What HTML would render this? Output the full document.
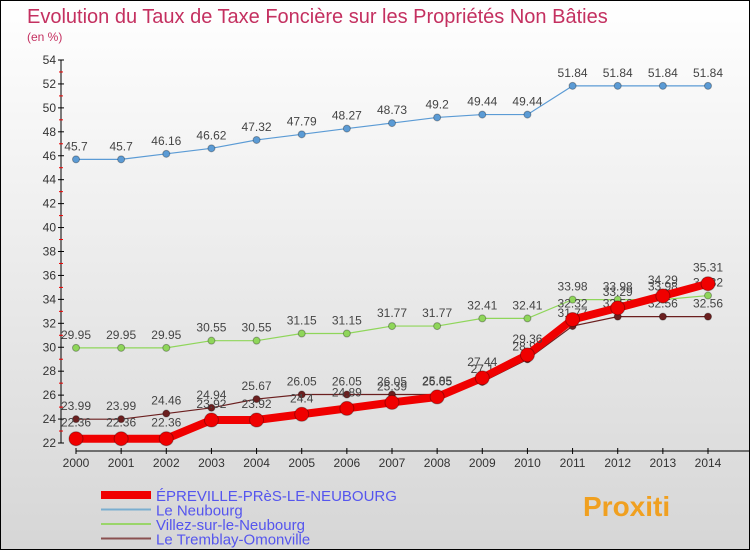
<!DOCTYPE html>
<html><head><meta charset="utf-8"><style>
body{margin:0}
#c{width:748px;height:548px;border:1px solid #000;background:linear-gradient(#fff,#d6d6d6);position:relative;overflow:hidden;font-family:"Liberation Sans",sans-serif}
</style></head><body>
<div id="c">
<svg id="s" width="748" height="548">
<text x="26" y="22" font-size="20" fill="#c43060">Evolution du Taux de Taxe Foncière sur les Propriétés Non Bâties</text>
<text x="26" y="40" font-size="12" fill="#c43060">(en %)</text>
</svg>
</div>
<script>
const years=[2000,2001,2002,2003,2004,2005,2006,2007,2008,2009,2010,2011,2012,2013,2014];
const yTicks=[22,24,26,28,30,32,34,36,38,40,42,44,46,48,50,52,54];
const epreville=[22.36,22.36,22.36,23.92,23.92,24.4,24.89,25.39,25.85,27.44,29.36,32.32,33.29,34.29,35.31];
const neubourg=[45.7,45.7,46.16,46.62,47.32,47.79,48.27,48.73,49.2,49.44,49.44,51.84,51.84,51.84,51.84];
const villez=[29.95,29.95,29.95,30.55,30.55,31.15,31.15,31.77,31.77,32.41,32.41,33.98,33.98,33.98,34.32];
const tremblay=[23.99,23.99,24.46,24.94,25.67,26.05,26.05,26.05,26.05,27.1,28.99,31.77,32.56,32.56,32.56];
const NS="http://www.w3.org/2000/svg",s=document.getElementById('s');
const X=i=>75+i*(632/14), Y=v=>442-(v-22)*(383/32);
function mk(t,a,p){const e=document.createElementNS(NS,t);for(const k in a)e.setAttribute(k,a[k]);(p||s).appendChild(e);return e;}
const ax=mk('line',{x1:60,y1:59,x2:60,y2:442,stroke:'#000'});


const xa=mk('line',{x1:75,y1:450,x2:748,y2:450,stroke:'#000'});


yTicks.forEach(v=>{mk('line',{x1:57,x2:63,y1:Y(v),y2:Y(v),stroke:'#000'});
if(v<54)mk('line',{x1:58,x2:62,y1:Y(v+1),y2:Y(v+1),stroke:'#e00'});
const t=mk('text',{x:55,y:Y(v)+4,'font-size':12,'text-anchor':'end',fill:'#333'});t.textContent=v;

});
years.forEach((y,i)=>{mk('line',{x1:X(i),x2:X(i),y1:447,y2:453,stroke:'#000'});
const t=mk('text',{x:X(i),y:466,'font-size':12,'text-anchor':'middle',fill:'#333'});t.textContent=y;

});
function series(d,col,w,r,name,off){const g=mk('g',{});


mk('polyline',{points:d.map((v,i)=>X(i)+','+Y(v)).join(' '),fill:'none',stroke:col,'stroke-width':w},g);
d.forEach((v,i)=>{const c=mk('circle',{cx:X(i),cy:Y(v),r:r,fill:col,stroke:'rgba(0,0,0,0.3)'},g);


const t=mk('text',{x:X(i),y:Y(v)+off,'font-size':12,'text-anchor':'middle',fill:'#444'},g);t.textContent=v;

});}
series(neubourg,'#5b9bd5',1.2,3.5,'neubourg-series',-9);
series(villez,'#8fd65a',1.2,3.5,'villez-series',-9);
series(tremblay,'#6b1f1f',1.2,3.5,'tremblay-series',-9);
series(epreville,'#f00000',8,7,'epreville-series',-12);
const leg=[['ÉPREVILLE-PRèS-LE-NEUBOURG','#f00000',8],['Le Neubourg','#7aaed0',2],['Villez-sur-le-Neubourg','#9ad56a',2],['Le Tremblay-Omonville','#8a5050',2]];
leg.forEach((l,i)=>{const y=494+i*14.5;const g=mk('g',{});


mk('line',{x1:100,x2:150,y1:y,y2:y,stroke:l[1],'stroke-width':l[2]},g);
const t=mk('text',{x:155,y:y+6,'font-size':15,fill:'#5555ee'},g);t.textContent=l[0];});
const p=mk('text',{x:582,y:515,'font-size':28,'font-weight':'bold',fill:'#f0a020'});p.textContent='Proxiti';


</script>
</body></html>
